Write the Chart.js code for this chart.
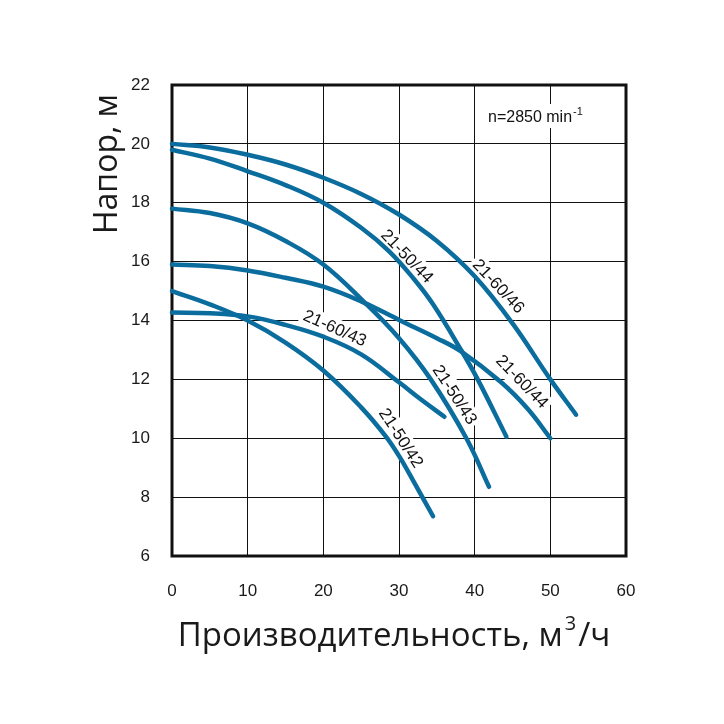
<!DOCTYPE html>
<html>
<head>
<meta charset="utf-8">
<script src="https://cdn.jsdelivr.net/npm/chart.js@4.4.1/dist/chart.umd.min.js"></script>
<style>
  html, body { margin: 0; padding: 0; background: #fff; }
  #wrap { width: 724px; height: 724px; }
</style>
</head>
<body>
<div id="wrap"><canvas id="pumpChart" width="724" height="724"></canvas></div>
<script>
// Tick values
const flowTicks = [0, 10, 20, 30, 40, 50, 60];
const headTicks = [6, 8, 10, 12, 14, 16, 18, 20, 22];

// Pump curves, flow (m3/h) and head (m)
const q6046 = [0, 5, 10, 15, 20, 25, 30, 35, 40, 45, 50, 53.4];
const h6046 = [20.0, 19.88, 19.63, 19.3, 18.85, 18.3, 17.6, 16.7, 15.5, 13.9, 12.0, 10.8];

const q5044 = [0, 5, 10, 15, 20, 25, 28.7, 32, 34.5, 38.2, 40.4, 44.2];
const h5044 = [19.8, 19.5, 19.07, 18.6, 18.0, 17.15, 16.35, 15.4, 14.55, 13.0, 12.0, 10.05];

const q5043 = [0, 5, 10, 15, 20, 25.3, 30, 34.2, 38.9, 41.9];
const h5043 = [17.8, 17.65, 17.3, 16.7, 15.9, 14.65, 13.4, 12.0, 10.0, 8.35];

const q6044 = [0, 5, 10, 15, 20, 25, 30, 35, 38.2, 43.5, 47, 50];
const h6044 = [15.9, 15.85, 15.7, 15.45, 15.15, 14.65, 14.02, 13.4, 12.95, 11.9, 11.0, 10.0];

const q6043 = [0, 5, 10, 15, 20, 25, 30, 33, 36];
const h6043 = [14.27, 14.25, 14.14, 13.85, 13.45, 12.85, 11.9, 11.3, 10.73];

const q5042 = [0, 5, 10, 15, 20, 25, 28.3, 30, 32, 34.5];
const h5042 = [15.0, 14.55, 14.0, 13.25, 12.3, 11.05, 10.05, 9.4, 8.5, 7.35];

const curveNames = ['21-60/46', '21-50/44', '21-50/43', '21-60/44', '21-60/43', '21-50/42'];
const curveFlows = [q6046, q5044, q5043, q6044, q6043, q5042];
const curveHeads = [h6046, h5044, h5043, h6044, h6043, h5042];

// Where each curve name sits (data units) and its slant in degrees
const labelSpots = [
    { text: '21-60/46', x: 43.1, y: 15.15, angle: 47 },
    { text: '21-50/44', x: 31.0, y: 16.17, angle: 46 },
    { text: '21-50/43', x: 37.3, y: 11.47, angle: 57 },
    { text: '21-60/44', x: 46.2, y: 11.91, angle: 46 },
    { text: '21-60/43', x: 21.5, y: 13.72, angle: 24 },
    { text: '21-50/42', x: 30.2, y: 10.0, angle: 57 }
];

const curveColor = '#0b6c9e';
const tickFont = '"Liberation Sans", Arial, sans-serif';
const titleFont = '"Open Sans", "Noto Sans", sans-serif';

const datasets = curveNames.map((name, i) => ({
    label: name,
    data: curveFlows[i].map((q, j) => ({ x: q, y: curveHeads[i][j] })),
    borderColor: curveColor,
    borderWidth: 4.5,
    borderCapStyle: 'round',
    tension: 0.4,
    pointRadius: 0,
    fill: false,
    clip: 5
}));

const labelFontSize = 17;

const decorations = {
    id: 'decorations',
    beforeDatasetsDraw(chart) {
        const { ctx, chartArea, scales } = chart;
        ctx.save();
        ctx.font = labelFontSize + 'px ' + tickFont;
        ctx.fillStyle = '#fff';
        labelSpots.forEach(l => {
            const w = ctx.measureText(l.text).width;
            ctx.save();
            ctx.translate(scales.x.getPixelForValue(l.x), scales.y.getPixelForValue(l.y));
            ctx.rotate(l.angle * Math.PI / 180);
            ctx.fillRect(-w / 2 - 3, -labelFontSize / 2 - 2, w + 6, labelFontSize + 4);
            ctx.restore();
        });
        // gap behind the speed note
        ctx.fillRect(484, 104, 120, 24);
        // thick frame
        ctx.strokeStyle = '#111';
        ctx.lineWidth = 3;
        ctx.strokeRect(chartArea.left, chartArea.top, chartArea.right - chartArea.left, chartArea.bottom - chartArea.top);
        ctx.restore();
    },
    afterDatasetsDraw(chart) {
        const { ctx, chartArea, scales } = chart;
        ctx.save();
        ctx.fillStyle = '#111';
        ctx.textAlign = 'center';
        ctx.textBaseline = 'middle';
        ctx.font = labelFontSize + 'px ' + tickFont;
        labelSpots.forEach(l => {
            ctx.save();
            ctx.translate(scales.x.getPixelForValue(l.x), scales.y.getPixelForValue(l.y));
            ctx.rotate(l.angle * Math.PI / 180);
            ctx.fillText(l.text, 0, 0);
            ctx.restore();
        });

        // speed note
        ctx.textAlign = 'left';
        ctx.textBaseline = 'alphabetic';
        ctx.font = '16px ' + tickFont;
        const note = 'n=2850 min';
        ctx.fillText(note, 488, 122);
        const nw = ctx.measureText(note).width;
        ctx.font = '11px ' + tickFont;
        ctx.fillText('-1', 488 + nw + 1, 115);

        // x title with superscript
        ctx.fillStyle = '#1a1a1a';
        ctx.font = '33px ' + titleFont;
        const partA = 'Производительность, м';
        const partC = '/ч';
        const wa = ctx.measureText(partA).width;
        const wc = ctx.measureText(partC).width;
        ctx.font = '20px ' + titleFont;
        const wb = ctx.measureText('3').width;
        const total = wa + wb + 4 + wc;
        let sx = (chartArea.left + chartArea.right) / 2 - 5 - total / 2;
        ctx.font = '33px ' + titleFont;
        ctx.fillText(partA, sx, 646);
        ctx.font = '20px ' + titleFont;
        ctx.fillText('3', sx + wa + 2, 630);
        ctx.font = '33px ' + titleFont;
        ctx.fillText(partC, sx + wa + wb + 4, 646);

        // y title
        ctx.font = '32px ' + titleFont;
        ctx.save();
        ctx.translate(117, 164);
        ctx.rotate(-Math.PI / 2);
        ctx.textAlign = 'center';
        ctx.fillText('Напор, м', 0, 0);
        ctx.restore();
        ctx.restore();
    }
};

new Chart(document.getElementById('pumpChart').getContext('2d'), {
    type: 'line',
    data: { datasets: datasets },
    options: {
        responsive: false,
        animation: false,
        layout: { padding: { top: 85, right: 98, left: 0, bottom: 0 } },
        plugins: {
            legend: { display: false },
            tooltip: { enabled: false }
        },
        scales: {
            x: {
                type: 'linear',
                min: 0,
                max: 60,
                afterBuildTicks: s => { s.ticks = flowTicks.map(v => ({ value: v })); },
                afterFit: s => { s.height = 168; },
                grid: { color: '#111', lineWidth: 1, drawTicks: false },
                border: { display: false },
                ticks: { padding: 25, color: '#1a1a1a', maxRotation: 0, font: { family: tickFont, size: 17 } }
            },
            y: {
                type: 'linear',
                min: 6,
                max: 22,
                afterBuildTicks: s => { s.ticks = headTicks.map(v => ({ value: v })); },
                afterFit: s => { s.width = 172; },
                grid: { color: '#111', lineWidth: 1, drawTicks: false },
                border: { display: false },
                ticks: { padding: 22, color: '#1a1a1a', font: { family: tickFont, size: 17 } }
            }
        }
    },
    plugins: [decorations]
});
</script>
</body>
</html>
